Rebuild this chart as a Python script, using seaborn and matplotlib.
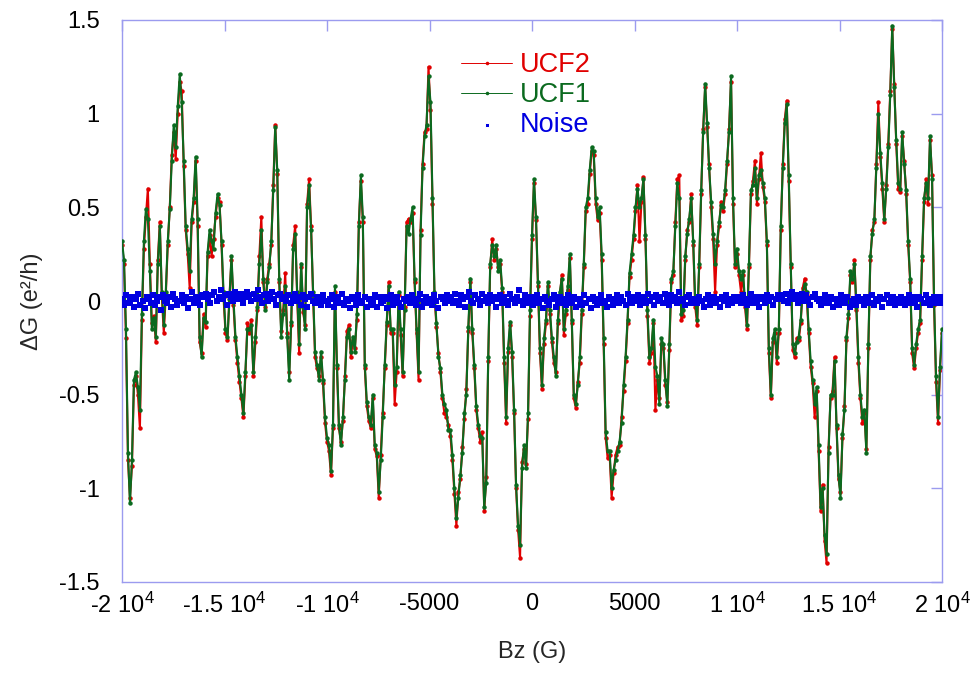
import numpy as np
import pandas as pd
import matplotlib
matplotlib.use("Agg")
import matplotlib.pyplot as plt
import seaborn as sns

# ---- data ----
UCF1 = [
    0.32, 0.22, -0.15, -0.81, -1.08, -0.85, -0.42, -0.38, -0.46, -0.58,
    -0.07, 0.32, 0.49, 0.44, 0.16, -0.15, -0.09, -0.19, 0.20, 0.40,
    0.05, -0.13, 0.05, 0.32, 0.49, 0.75, 0.94, 0.82, 1.04, 1.21,
    1.06, 0.75, 0.40, 0.28, 0.16, 0.44, 0.55, 0.77, 0.44, -0.19,
    -0.30, -0.09, -0.11, 0.26, 0.38, 0.32, 0.28, 0.47, 0.57, 0.51,
    0.32, 0.05, -0.15, -0.19, 0.01, 0.24, 0.01, -0.19, -0.30, -0.40,
    -0.50, -0.60, -0.38, -0.15, -0.15, -0.13, -0.38, -0.19,
    -0.03, 0.20, 0.38, 0.12, -0.05, 0.10, 0.18, 0.32, 0.59, 0.93,
    0.70, 0.12, -0.19, -0.07, 0.08, -0.19, -0.42, -0.11, 0.28, 0.36,
    0.05, -0.23, 0.20, -0.03, -0.15, 0.50, 0.62, 0.38, 0.05, -0.27,
    -0.34, -0.42, -0.27, -0.42, -0.62, -0.73, -0.77, -0.91, -0.66, 0.08,
    -0.34, -0.66, -0.77, -0.62, -0.42, -0.19, -0.15, -0.27, -0.19, -0.27,
    -0.07, 0.40, 0.67, 0.45, -0.34, -0.54, -0.62, -0.66, -0.50, -0.77,
    -0.81, -1.02, -0.85, -0.62, -0.34, -0.11, 0.08, -0.15,
    -0.15, -0.45, -0.35, 0.05, -0.15, -0.38, -0.05, 0.40, 0.36, 0.44,
    0.50, 0.12, -0.15, -0.38, 0.35, 0.71, 0.88, 0.94, 1.20, 1.06,
    0.55, 0.05, -0.12, -0.30, -0.36, -0.50, -0.55, -0.58, -0.69, -0.69,
    -0.82, -1.00, -1.16, -1.05, -0.93, -0.81, -0.60, -0.50, -0.14, 0.12,
    -0.15, -0.34, -0.56, -0.66, -0.72, -0.73, -1.10, -0.97, -0.30, 0.20,
    0.30, 0.24, 0.30, 0.16, 0.22, 0.07, -0.30, -0.62, -0.25, -0.11,
    -0.27, -0.58, -0.98, -1.20, -1.30, -0.89, -0.77, -0.89,
    -0.60, -0.05, 0.35, 0.65, 0.45, 0.10, -0.25, -0.45, -0.20, -0.10,
    0.10, -0.05, -0.20, -0.30, -0.40, -0.10, 0.05, 0.12, -0.15, -0.05,
    0.08, 0.25, -0.10, -0.50, -0.55, -0.45, -0.30, -0.05, 0.20, 0.50,
    0.55, 0.70, 0.82, 0.80, 0.55, 0.45, 0.50, 0.25, -0.20, -0.70,
    -0.80, -0.80, -1.00, -0.90, -0.85, -0.80, -0.75, -0.65, -0.45, -0.30,
    -0.10, 0.15, 0.25, 0.35, 0.50, 0.60, 0.50, 0.55, 0.65, 0.35,
    -0.05, -0.30, -0.25, -0.10, -0.35, -0.40, -0.55, -0.20,
    -0.23, -0.42, -0.56, -0.23, 0.12, 0.16, 0.40, 0.63, 0.55, -0.07,
    -0.05, 0.24, 0.36, 0.44, 0.55, 0.32, 0.00, -0.10, 0.20, 0.59,
    0.90, 1.16, 0.95, 0.71, 0.53, 0.36, 0.20, 0.32, 0.42, 0.51,
    0.50, 0.59, 0.75, 0.90, 1.20, 0.55, 0.20, 0.28, 0.16, 0.12,
    0.16, 0.00, -0.13, 0.20, 0.59, 0.62, 0.71, 0.55, 0.67, 0.70,
    0.63, 0.55, 0.32, -0.25, -0.50, -0.20, -0.15, -0.30, -0.15, 0.40,
    0.71, 0.95, 1.05, 0.67, 0.20, -0.23, -0.28, -0.22,
    -0.19, -0.10, 0.05, 0.09, 0.05, -0.15, -0.32, -0.42, -0.55, -0.46,
    -0.77, -1.10, -1.00, -1.25, -1.35, -0.81, -0.50, -0.50, -0.32, -0.66,
    -0.93, -1.05, -0.71, -0.58, -0.19, -0.07, 0.16, 0.12, 0.20, -0.03,
    -0.30, -0.50, -0.62, -0.58, -0.81, -0.23, 0.24, 0.36, 0.44, 0.71,
    1.00, 0.79, 0.63, 0.44, 0.60, 0.82, 1.10, 1.47, 1.14, 0.86,
    0.63, 0.60, 0.90, 0.73, 0.59, 0.32, 0.12, -0.25, -0.34, -0.23,
    -0.15, -0.10, 0.24, 0.55, 0.63, 0.55, 0.88, 0.65, 0.01, -0.40,
    -0.62, -0.35, -0.15,
]

UCF2 = [
    0.30, 0.20, -0.20, -0.85, -1.05, -0.88, -0.45, -0.40, -0.50, -0.68,
    -0.10, 0.28, 0.45, 0.60, 0.20, -0.12, -0.08, -0.22, 0.22, 0.42,
    0.02, -0.17, 0.03, 0.30, 0.50, 0.78, 0.90, 0.76, 1.00, 1.17,
    1.12, 0.72, 0.38, 0.25, 0.07, 0.42, 0.53, 0.75, 0.40, -0.22,
    -0.28, -0.07, -0.14, 0.24, 0.35, 0.24, 0.33, 0.45, 0.55, 0.53,
    0.30, 0.02, -0.17, -0.21, 0.03, 0.22, -0.02, -0.21, -0.33, -0.43,
    -0.52, -0.62, -0.40, -0.12, -0.17, -0.10, -0.40, -0.22,
    -0.05, 0.24, 0.45, 0.10, -0.03, 0.12, 0.20, 0.30, 0.62, 0.94,
    0.68, 0.10, -0.16, -0.05, 0.15, -0.17, -0.38, -0.13, 0.30, 0.40,
    0.02, -0.28, 0.18, -0.06, -0.13, 0.52, 0.65, 0.40, 0.03, -0.30,
    -0.36, -0.40, -0.30, -0.44, -0.65, -0.75, -0.80, -0.93, -0.68, 0.05,
    -0.36, -0.68, -0.75, -0.64, -0.40, -0.16, -0.13, -0.30, -0.21, -0.25,
    -0.10, 0.42, 0.64, 0.42, -0.36, -0.56, -0.64, -0.68, -0.52, -0.79,
    -0.83, -1.05, -0.82, -0.60, -0.36, -0.13, 0.10, -0.17,
    -0.17, -0.55, -0.38, 0.03, -0.18, -0.40, -0.03, 0.42, 0.44, 0.42,
    0.47, 0.10, -0.17, -0.42, 0.38, 0.73, 0.90, 0.92, 1.25, 1.02,
    0.52, 0.03, -0.14, -0.28, -0.38, -0.52, -0.60, -0.62, -0.66, -0.72,
    -0.85, -1.03, -1.20, -1.02, -0.95, -0.78, -0.63, -0.47, -0.16, 0.10,
    -0.17, -0.36, -0.58, -0.68, -0.75, -0.70, -1.12, -0.94, -0.32, 0.18,
    0.33, 0.22, 0.28, 0.18, 0.20, 0.05, -0.33, -0.65, -0.27, -0.13,
    -0.30, -0.60, -1.00, -1.22, -1.37, -0.86, -0.79, -0.87,
    -0.63, -0.08, 0.33, 0.63, 0.43, 0.08, -0.28, -0.47, -0.23, -0.12,
    0.08, -0.07, -0.22, -0.33, -0.38, -0.12, 0.03, 0.14, -0.18, -0.07,
    0.06, 0.23, -0.12, -0.52, -0.57, -0.43, -0.33, -0.07, 0.18, 0.48,
    0.52, 0.68, 0.80, 0.78, 0.52, 0.43, 0.47, 0.22, -0.23, -0.73,
    -0.84, -0.82, -1.05, -0.92, -0.82, -0.78, -0.77, -0.62, -0.48, -0.32,
    -0.12, 0.13, 0.22, 0.33, 0.48, 0.62, 0.32, 0.53, 0.66, 0.33,
    -0.08, -0.33, -0.28, -0.12, -0.58, -0.42, -0.52, -0.23,
    -0.25, -0.45, -0.54, -0.26, 0.10, 0.14, 0.42, 0.65, 0.67, -0.10,
    -0.08, 0.22, 0.38, 0.42, 0.57, 0.30, -0.03, -0.13, 0.18, 0.57,
    0.92, 1.14, 0.93, 0.73, 0.50, 0.33, 0.05, 0.30, 0.40, 0.53,
    0.48, 0.57, 0.73, 0.92, 1.17, 0.52, 0.18, 0.25, 0.14, 0.05,
    0.14, -0.03, -0.15, 0.18, 0.57, 0.64, 0.75, 0.52, 0.65, 0.79,
    0.61, 0.53, 0.30, -0.28, -0.52, -0.22, -0.17, -0.33, -0.17, 0.38,
    0.73, 0.97, 1.07, 0.64, 0.18, -0.26, -0.30, -0.20,
    -0.21, -0.12, 0.07, 0.12, 0.03, -0.17, -0.35, -0.44, -0.62, -0.48,
    -0.80, -1.12, -0.98, -1.28, -1.40, -0.78, -0.52, -0.48, -0.30, -0.68,
    -0.95, -1.02, -0.73, -0.56, -0.21, -0.09, 0.14, 0.10, 0.22, -0.05,
    -0.33, -0.52, -0.65, -0.60, -0.79, -0.25, 0.22, 0.38, 0.42, 0.73,
    1.06, 0.77, 0.60, 0.42, 0.62, 0.84, 1.12, 1.45, 1.16, 0.84,
    0.60, 0.58, 0.88, 0.75, 0.57, 0.30, 0.10, -0.28, -0.36, -0.25,
    -0.17, -0.12, 0.22, 0.53, 0.65, 0.52, 0.86, 0.67, -0.02, -0.43,
    -0.65, -0.37, -0.17,
]

NOISE = [
    0.01, -0.02, 0.03, -0.01, 0.00, 0.02, -0.03, 0.01, 0.04, -0.02, 0.00, -0.04, 0.02, 0.01, -0.01, 0.03, -0.02, 0.00, 0.02, -0.05,
    0.03, 0.00, -0.01, 0.02, -0.03, 0.04, 0.01, -0.02, 0.00, 0.03, -0.01, 0.02, -0.04, 0.01, 0.05, -0.01, 0.02, 0.00, -0.02, 0.03,
    0.02, 0.04, 0.01, -0.01, 0.03, 0.05, 0.00, 0.02, 0.06, 0.01, 0.03, -0.02, 0.04, 0.02, 0.00, 0.05, 0.03, 0.01, 0.04, -0.01,
    0.02, 0.05, 0.03, 0.00, 0.04, 0.01, 0.06, 0.02, -0.01, 0.03, 0.04, 0.00, 0.02, 0.05, 0.01, -0.02, 0.03, 0.04, 0.01, 0.02,
    0.00, 0.03, -0.01, 0.02, 0.04, 0.00, 0.02, -0.02, 0.03, 0.01, -0.03, 0.02, 0.04, 0.00, -0.01, 0.02, 0.01, -0.02, 0.03, 0.00,
    -0.02, 0.01, 0.03, -0.03, 0.00, 0.02, -0.01, 0.04, -0.02, 0.01, 0.00, -0.04, 0.02, 0.01, -0.02, 0.03, 0.00, -0.01, 0.02, -0.03,
    0.01, -0.02, 0.00, 0.03, -0.03, 0.02, -0.01, 0.00, 0.02, -0.04, 0.01, 0.03, -0.02, 0.00, 0.02, -0.01, -0.03, 0.01, 0.00, 0.02,
    -0.01, 0.03, 0.00, -0.02, 0.01, 0.04, -0.03, 0.00, 0.02, -0.01, 0.01, -0.02, 0.03, 0.00, -0.04, 0.02, 0.01, -0.01, 0.03, 0.00,
    0.02, -0.01, 0.04, 0.00, -0.02, 0.03, 0.01, -0.03, 0.02, 0.05, 0.00, -0.01, 0.03, 0.01, -0.02, 0.04, 0.00, 0.02, -0.01, 0.03,
    0.00, 0.02, -0.03, 0.01, 0.03, -0.01, 0.02, 0.00, -0.02, 0.04, 0.01, -0.01, 0.02, 0.06, 0.00, -0.02, 0.03, 0.01, -0.01, 0.02,
    -0.02, 0.00, 0.03, -0.01, 0.01, -0.04, 0.02, 0.00, -0.02, 0.01, 0.03, -0.03, 0.00, 0.02, -0.01, 0.01, -0.02, 0.03, 0.00, -0.01,
    0.02, -0.03, 0.01, 0.00, -0.02, 0.03, -0.01, 0.01, -0.04, 0.02, 0.00, -0.02, 0.01, 0.03, -0.01, 0.00, -0.03, 0.02, 0.01, -0.02,
    0.01, 0.03, -0.01, 0.02, 0.00, -0.02, 0.04, 0.01, -0.01, 0.02, 0.00, 0.03, -0.02, 0.01, 0.02, -0.01, 0.04, 0.00, 0.02, -0.02,
    0.03, 0.00, 0.02, -0.01, 0.04, 0.01, -0.02, 0.03, 0.00, 0.02, -0.01, 0.05, 0.01, 0.00, -0.02, 0.02, 0.03, -0.01, 0.01, 0.00,
    -0.01, 0.02, 0.00, -0.03, 0.01, 0.03, -0.02, 0.00, 0.02, -0.01, 0.01, -0.03, 0.02, 0.00, 0.03, -0.02, 0.01, -0.01, 0.02, 0.00,
    0.02, -0.01, 0.03, 0.00, -0.02, 0.01, 0.04, -0.01, 0.02, 0.00, -0.03, 0.02, 0.01, -0.01, 0.03, 0.00, 0.02, -0.02, 0.01, 0.03,
    0.01, 0.03, 0.00, 0.04, -0.01, 0.02, 0.05, 0.01, 0.03, -0.01, 0.02, 0.04, 0.00, 0.03, 0.01, -0.02, 0.02, 0.04, 0.01, 0.00,
    -0.02, 0.01, 0.03, -0.01, 0.00, 0.02, -0.03, 0.01, 0.00, -0.02, 0.03, 0.01, -0.01, 0.02, -0.03, 0.00, 0.01, -0.02, 0.02, 0.00,
    0.01, -0.02, 0.02, 0.00, -0.01, 0.03, -0.02, 0.01, 0.00, 0.02, -0.03, 0.01, 0.03, -0.01, 0.00, 0.02, -0.02, 0.01, -0.01, 0.02,
    0.00, -0.02, 0.01, 0.03, -0.01, 0.02, 0.00, -0.03, 0.02, 0.01, -0.01, 0.03, 0.00, -0.02, 0.01, 0.02, -0.01, 0.00, 0.02, -0.01,
]

X_TICKS = [-20000, -15000, -10000, -5000, 0, 5000, 10000, 15000, 20000]
X_TICK_LABELS = [r"-2 10$^{4}$", r"-1.5 10$^{4}$", r"-1 10$^{4}$", "-5000", "0",
                 "5000", r"1 10$^{4}$", r"1.5 10$^{4}$", r"2 10$^{4}$"]
Y_TICKS = [-1.5, -1, -0.5, 0, 0.5, 1, 1.5]
Y_TICK_LABELS = ["-1.5", "-1", "-0.5", "0", "0.5", "1", "1.5"]
SERIES_NAMES = ["UCF2", "UCF1", "Noise"]

RED = "#e00000"
GREEN = "#0b6a1f"
BLUE = "#0000e0"
AXC = "#9b9bef"

sns.set_theme(style="white")
plt.rcParams["font.family"] = ["Liberation Sans", "DejaVu Sans"]
plt.rcParams["mathtext.fontset"] = "custom"
plt.rcParams["mathtext.rm"] = "Liberation Sans"
plt.rcParams["mathtext.it"] = "Liberation Sans"

bz = np.linspace(-20000, 20000, len(UCF1))
bz_noise = np.linspace(-20000, 20000, len(NOISE))
df = pd.DataFrame({"Bz": bz, "UCF1": UCF1, "UCF2": UCF2})
dn = pd.DataFrame({"Bz": bz_noise, "Noise": NOISE})

fig = plt.figure(figsize=(9.8, 6.75), dpi=100)
ax = fig.add_axes([122 / 980, 93 / 675, 820 / 980, 562 / 675])

sns.lineplot(data=df, x="Bz", y="UCF2", ax=ax, color=RED, lw=1.5,
             marker="o", markersize=3.2, markeredgewidth=0, estimator=None,
             label=SERIES_NAMES[0], zorder=2)
sns.lineplot(data=df, x="Bz", y="UCF1", ax=ax, color=GREEN, lw=1.5,
             marker="o", markersize=3.2, markeredgewidth=0, estimator=None,
             label=SERIES_NAMES[1], zorder=3)
sns.scatterplot(data=dn, x="Bz", y="Noise", ax=ax, color=BLUE, s=16,
                marker="s", linewidth=0, label=SERIES_NAMES[2], zorder=4)

ax.set_xlim(-20000, 20000)
ax.set_ylim(-1.5, 1.5)
ax.set_xticks(X_TICKS)
ax.set_xticklabels(X_TICK_LABELS)
ax.set_yticks(Y_TICKS)
ax.set_yticklabels(Y_TICK_LABELS)
ax.tick_params(axis="both", which="major", direction="in", length=8, width=1,
               color=AXC, top=True, right=True, labelsize=17, labelcolor="black")
ax.tick_params(axis="x", pad=8)
ax.tick_params(axis="y", pad=16)
for sp in ax.spines.values():
    sp.set_color(AXC)
    sp.set_linewidth(1.0)
ax.grid(False)
ax.set_facecolor("white")

ax.set_xlabel("Bz (G)", fontsize=17, labelpad=16)
ax.set_ylabel("ΔG (e²/h)", fontsize=17, labelpad=12)

leg = ax.legend(loc="upper left", bbox_to_anchor=(461 / 980, 1 - 52 / 675),
                bbox_transform=fig.transFigure, frameon=False, fontsize=19.5,
                handlelength=1.9, handletextpad=0.27, labelspacing=0.15,
                borderpad=0.0, borderaxespad=0.0, numpoints=1, markerscale=0.8)
for txt, col in zip(leg.get_texts(), [RED, GREEN, BLUE]):
    txt.set_color(col)
for h in leg.legend_handles:
    try:
        h.set_linewidth(0.7)
    except Exception:
        pass

fig.savefig("out.png", dpi=100, facecolor="white")
